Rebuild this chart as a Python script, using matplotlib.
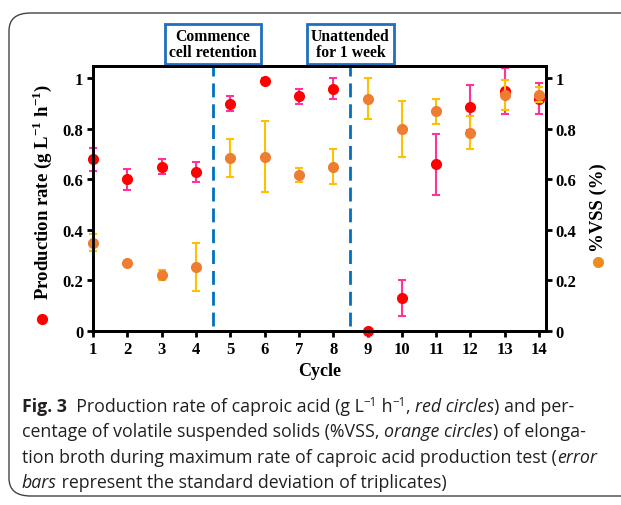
import matplotlib
matplotlib.use("Agg")
import matplotlib.pyplot as plt
from matplotlib.patches import FancyBboxPatch
from matplotlib.lines import Line2D

cycles = [1, 2, 3, 4, 5, 6, 7, 8, 9, 10, 11, 12, 13, 14]
rate = [0.68, 0.60, 0.65, 0.63, 0.90, 0.99, 0.93, 0.96, 0.0, 0.13, 0.66, 0.885, 0.95, 0.92]
rate_sd = [0.045, 0.04, 0.03, 0.04, 0.03, 0.01, 0.03, 0.04, 0.0, 0.07, 0.12, 0.09, 0.09, 0.06]
vss = [0.35, 0.27, 0.22, 0.255, 0.685, 0.69, 0.617, 0.65, 0.92, 0.80, 0.87, 0.785, 0.935, 0.935]
vss_sd = [0.035, 0.0, 0.02, 0.095, 0.077, 0.14, 0.027, 0.07, 0.08, 0.11, 0.05, 0.065, 0.06, 0.03]
events = [4.5, 8.5]
event_labels = ["Commence\ncell retention", "Unattended\nfor 1 week"]
yticks = [0, 0.2, 0.4, 0.6, 0.8, 1]
ytick_labels = ["0", "0.2", "0.4", "0.6", "0.8", "1"]

serif = "Liberation Serif"
plt.rcParams["mathtext.fontset"] = "custom"
plt.rcParams["mathtext.rm"] = "Liberation Serif:bold"
plt.rcParams["mathtext.bf"] = "Liberation Serif:bold"

fig = plt.figure(figsize=(6.21, 5.06), dpi=100)
ax = fig.add_axes([0.150, 0.344, 0.729, 0.524])

ax.errorbar(cycles, rate, yerr=rate_sd, fmt="o", color="#ff0000", ms=7,
            ecolor="#ff3399", elinewidth=1.5, capsize=3, capthick=1.5, zorder=3, clip_on=False)
ax.errorbar(cycles, vss, yerr=vss_sd, fmt="o", color="#ed7d31", ms=7,
            ecolor="#ffc000", elinewidth=1.5, capsize=3, capthick=1.5, zorder=4, clip_on=False)

for xe, lab in zip(events, event_labels):
    ax.plot([xe, xe], [0.02, 1.065], ls=(0, (5, 2.5)), color="#0070c0", lw=2, clip_on=False, zorder=2)
    ax.text(xe, 1.072, lab, ha="center", va="bottom", fontsize=11.3, fontweight="bold",
            family=serif, linespacing=1.0,
            bbox=dict(boxstyle="square,pad=0.25", fc="white", ec="#1f6fbf", lw=2))

ax.set_xlim(1, 14.2)
ax.set_ylim(0, 1.05)
ax.set_xticks(cycles)
ax.set_xticklabels([str(c) for c in cycles], family=serif, fontweight="bold", fontsize=12)
ax.set_yticks(yticks)
ax.set_yticklabels(ytick_labels, family=serif, fontweight="bold", fontsize=12)
ax.tick_params(direction="out", width=2, length=4, pad=3)
for s in ax.spines.values():
    s.set_linewidth(2)

ax2 = ax.twinx()
ax2.set_ylim(0, 1.05)
ax2.set_yticks(yticks)
ax2.set_yticklabels(ytick_labels, family=serif, fontweight="bold", fontsize=12)
ax2.tick_params(direction="out", width=2, length=4, pad=3)
for s in ax2.spines.values():
    s.set_linewidth(2)

ax.set_xlabel("Cycle", family=serif, fontweight="bold", fontsize=13, labelpad=4)

fig.text(42 / 621, 1 - 192 / 506, "Production rate (g L$^{\\mathbf{-1}}$ h$^{\\mathbf{-1}}$)",
         rotation=90, ha="center", va="center", family=serif, fontweight="bold", fontsize=13.5)
fig.add_artist(Line2D([42 / 621], [1 - 320 / 506], marker="o", color="#ff0000", ms=7, ls=""))
fig.text(598 / 621, 1 - 208 / 506, "%VSS (%)", rotation=90, ha="center", va="center",
         family=serif, fontweight="bold", fontsize=13.5)
fig.add_artist(Line2D([598 / 621], [1 - 263 / 506], marker="o", color="#f08c1c", ms=7, ls=""))

# rounded frame
fig.add_artist(FancyBboxPatch((9 / 621, 1 - 497 / 506), 700 / 621, (497 - 14) / 506,
                              boxstyle="round,pad=0,rounding_size=0.035", transform=fig.transFigure,
                              fc="none", ec="#444444", lw=1.0))

# caption, drawn run by run
cap = "Open Sans"
capsize = 12.8
lines = [
    [("Fig. 3", "bold"), ("  Production rate of caproic acid (g L", "normal"), ("\u22121", "sup"),
     (" h", "normal"), ("\u22121", "sup"), (", ", "normal"),
     ("red circles", "italic"), (") and per-", "normal")],
    [("centage of volatile suspended solids (%VSS, ", "normal"), ("orange circles", "italic"),
     (") of elonga-", "normal")],
    [("tion broth during maximum rate of caproic acid production test (", "normal"), ("error", "italic")],
    [("bars", "italic"), (" represent the standard deviation of triplicates)", "normal")],
]
renderer = fig.canvas.get_renderer()
ys = [407, 432, 458, 483]
for runs, yp in zip(lines, ys):
    x = 22 / 621
    for s, st in runs:
        y = 1 - yp / 506
        size = capsize
        if st == "sup":
            y += 5 / 506
            size = capsize * 0.65
        t = fig.text(x, y, s, family=cap, fontsize=size, color="#231f20", va="center",
                     fontweight="bold" if st == "bold" else "normal",
                     fontstyle="italic" if st == "italic" else "normal")
        bb = t.get_window_extent(renderer)
        x += bb.width / fig.bbox.width

fig.savefig("out.png", dpi=100)
